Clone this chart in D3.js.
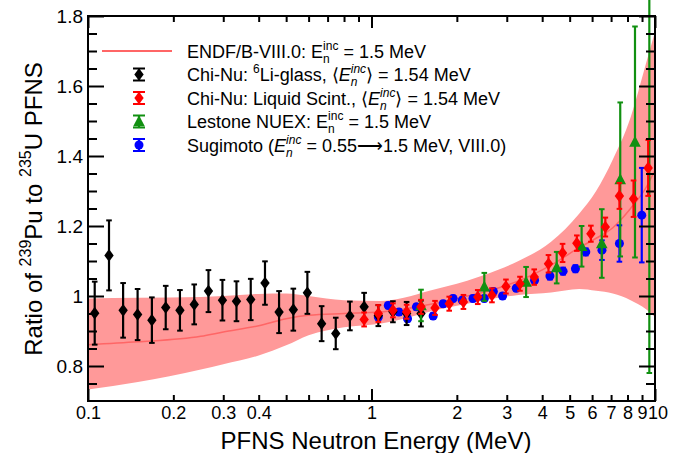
<!DOCTYPE html>
<html>
<head>
<meta charset="utf-8">
<title>239Pu / 235U PFNS ratio</title>
<script src="https://d3js.org/d3.v7.min.js"></script>
<style>
  body { margin: 0; background: #fff; }
  svg text { font-family: "Liberation Sans", Arial, Helvetica, sans-serif; fill: #000; }
</style>
</head>
<body>
<svg id="chart" width="689" height="453"></svg>
<script>
// ENDF/B-VIII.0 ratio and its uncertainty band
var endfE   = [0.1, 0.15, 0.25, 0.3, 0.4, 0.5, 0.6, 0.8, 1.07, 1.3, 1.6, 2.0, 2.8, 3.3, 4.3, 5.4, 6.2, 7.1, 8.2, 9.3, 10]
var endfMid = [0.861, 0.869, 0.885, 0.897, 0.915, 0.935, 0.945, 0.95, 0.954, 0.963, 0.976, 0.993, 1.023, 1.043, 1.088, 1.138, 1.165, 1.195, 1.25, 1.31, 1.36]
var endfHi  = [0.993, 0.995, 0.997, 1.0, 1.006, 1.007, 1.0, 0.988, 0.986, 0.995, 1.015, 1.035, 1.075, 1.1, 1.155, 1.235, 1.30, 1.39, 1.51, 1.665, 1.755]
var endfLo  = [0.733, 0.754, 0.79, 0.805, 0.83, 0.859, 0.888, 0.911, 0.921, 0.935, 0.955, 0.972, 0.995, 1.003, 1.01, 1.02, 1.015, 1.007, 0.988, 0.962, 0.94]

// Chi-Nu 6Li-glass
var liE   = [0.1056, 0.1186, 0.133, 0.1496, 0.168, 0.188, 0.211, 0.237, 0.266, 0.298, 0.334, 0.375, 0.421, 0.472, 0.530, 0.594, 0.667, 0.748, 0.839, 0.942, 1.057, 1.19, 1.33, 1.495]
var liR   = [0.951, 1.116, 0.959, 0.947, 0.931, 0.967, 0.959, 0.976, 1.014, 0.988, 0.985, 0.990, 1.037, 0.954, 0.961, 1.009, 0.921, 0.893, 0.943, 0.969, 0.944, 0.955, 0.95, 0.95]
var liErr = [0.09, 0.1, 0.078, 0.073, 0.065, 0.062, 0.058, 0.057, 0.06, 0.058, 0.057, 0.059, 0.062, 0.06, 0.06, 0.06, 0.05, 0.045, 0.041, 0.04, 0.03, 0.03, 0.033, 0.037]

// Chi-Nu liquid scintillator
var lsE   = [0.942, 1.057, 1.19, 1.33, 1.495, 1.675, 1.88, 2.11, 2.37, 2.66, 2.98, 3.34, 3.75, 4.21, 4.72, 5.3, 5.94, 6.68, 7.49, 8.4, 9.46]
var lsR   = [0.933, 0.95, 0.959, 0.955, 0.969, 0.966, 0.978, 0.983, 0.997, 1.002, 1.027, 1.035, 1.054, 1.092, 1.123, 1.151, 1.178, 1.197, 1.286, 1.278, 1.366]
var lsErr = [0.02, 0.024, 0.02, 0.02, 0.02, 0.02, 0.02, 0.02, 0.02, 0.02, 0.02, 0.02, 0.022, 0.025, 0.026, 0.022, 0.023, 0.027, 0.037, 0.052, 0.08]

// Lestone NUEX
var leE   = [1.495, 2.5, 3.51, 4.5, 5.51, 6.49, 7.54, 8.5, 9.55]
var leR   = [0.973, 1.026, 1.04, 1.081, 1.142, 1.15, 1.333, 1.44, 1.9]
var leErr = [0.045, 0.04, 0.043, 0.045, 0.058, 0.098, 0.22, 0.33, 1.12]

// Sugimoto
var suE   = [1.057, 1.146, 1.25, 1.34, 1.44, 1.65, 1.79, 1.94, 2.09, 2.28, 2.5, 2.69, 2.9, 3.24, 3.76, 4.26, 4.74, 5.24, 5.7, 6.5, 7.49, 8.98]
var suR   = [0.94, 0.973, 0.954, 0.935, 0.969, 0.943, 0.978, 0.993, 0.988, 0.993, 0.993, 1.013, 1.0, 1.022, 1.045, 1.057, 1.071, 1.078, 1.126, 1.131, 1.15, 1.231]
var suErr = [0.008, 0.008, 0.008, 0.008, 0.008, 0.008, 0.008, 0.008, 0.008, 0.008, 0.008, 0.008, 0.008, 0.008, 0.008, 0.01, 0.01, 0.01, 0.01, 0.028, 0.052, 0.135]

// axis ticks
var xLabels = [0.1, 0.2, 0.3, 0.4, 1, 2, 3, 4, 5, 6, 7, 8, 9, 10]
var xMajor = [0.1, 1, 10]
var xMinor = [0.2, 0.3, 0.4, 0.5, 0.6, 0.7, 0.8, 0.9, 2, 3, 4, 5, 6, 7, 8, 9]
var yLabels = [0.8, 1, 1.2, 1.4, 1.6, 1.8]

var svg = d3.select("#chart")

var x = d3.scaleLog().domain([0.1, 10]).range([88, 655])
var y = d3.scaleLinear().domain([0.7, 1.8]).range([401, 16])

var bandColor = "#ff9999", lineColor = "#ff6666"
var green = "#119011"

// band
var endf = endfE.map(function(e, i) { return {e: e, mid: endfMid[i], hi: endfHi[i], lo: endfLo[i]} })
svg.append("path")
  .datum(endf)
  .attr("fill", bandColor)
  .attr("d", d3.area().curve(d3.curveMonotoneX)
    .x(function(d) { return x(d.e) })
    .y0(function(d) { return y(d.lo) })
    .y1(function(d) { return y(d.hi) }))
svg.append("path")
  .datum(endf)
  .attr("fill", "none")
  .attr("stroke", lineColor)
  .attr("stroke-width", 1.5)
  .attr("d", d3.line().curve(d3.curveMonotoneX)
    .x(function(d) { return x(d.e) })
    .y(function(d) { return y(d.mid) }))

// marker shapes
function drawMarker(g, shape, color, cx, cy) {
  if (shape == "diamond") {
    g.append("path").attr("d", "M" + cx + "," + (cy - 6.3) + "L" + (cx + 4.7) + "," + cy + "L" + cx + "," + (cy + 6.3) + "L" + (cx - 4.7) + "," + cy + "Z")
      .attr("fill", color)
  } else if (shape == "circle") {
    g.append("circle").attr("cx", cx).attr("cy", cy).attr("r", 4.5).attr("fill", color)
  } else {
    g.append("path").attr("d", "M" + cx + "," + (cy - 6.3) + "L" + (cx + 5.8) + "," + (cy + 4.7) + "L" + (cx - 5.8) + "," + (cy + 4.7) + "Z")
      .attr("fill", color)
  }
}

function drawErrBar(g, color, cx, y1, y2, cap) {
  g.append("line").attr("x1", cx).attr("x2", cx).attr("y1", y1).attr("y2", y2)
    .attr("stroke", color).attr("stroke-width", 2.2)
  g.append("line").attr("x1", cx - cap).attr("x2", cx + cap).attr("y1", y1).attr("y2", y1)
    .attr("stroke", color).attr("stroke-width", 2)
  g.append("line").attr("x1", cx - cap).attr("x2", cx + cap).attr("y1", y2).attr("y2", y2)
    .attr("stroke", color).attr("stroke-width", 2)
}

function drawSeries(es, rs, errs, shape, color) {
  var g = svg.append("g")
  es.forEach(function(e, i) {
    drawErrBar(g, color, x(e), y(rs[i] + errs[i]), y(rs[i] - errs[i]), 2.8)
    drawMarker(g, shape, color, x(e), y(rs[i]))
  })
}

drawSeries(suE, suR, suErr, "circle", "#0000ff")
drawSeries(liE, liR, liErr, "diamond", "#000000")
drawSeries(leE, leR, leErr, "triangle", green)
drawSeries(lsE, lsR, lsErr, "diamond", "#ff0000")

// frame and ticks (ROOT style, ticks inside)
var frame = svg.append("g")
function tickAxis(axis, vals, len, transform) {
  frame.append("g").attr("transform", transform)
    .call(axis.tickValues(vals).tickSize(-len).tickFormat(""))
    .call(function(g) { g.select(".domain").remove() })
    .selectAll("line").attr("stroke", "#000").attr("stroke-width", 2)
}
tickAxis(d3.axisBottom(x), xMajor, 12, "translate(0,401)")
tickAxis(d3.axisBottom(x), xMinor, 6, "translate(0,401)")
tickAxis(d3.axisTop(x), xMajor, 12, "translate(0,16)")
tickAxis(d3.axisTop(x), xMinor, 6, "translate(0,16)")
var yMinor = d3.range(0.75, 1.8, 0.05).filter(function(v) { return Math.abs(v * 5 - Math.round(v * 5)) > 0.01 })
tickAxis(d3.axisLeft(y), yLabels, 16, "translate(88,0)")
tickAxis(d3.axisLeft(y), yMinor, 9, "translate(88,0)")
tickAxis(d3.axisRight(y), yLabels, 16, "translate(655,0)")
tickAxis(d3.axisRight(y), yMinor, 9, "translate(655,0)")

frame.append("rect").attr("x", 88).attr("y", 16).attr("width", 655 - 88).attr("height", 401 - 16)
  .attr("fill", "none").attr("stroke", "#000").attr("stroke-width", 2)

// tick labels
svg.append("g").attr("transform", "translate(0,401)")
  .call(d3.axisBottom(x).tickValues(xLabels).tickSize(0).tickPadding(5).tickFormat(function(d) { return d }))
  .call(function(g) {
    g.select(".domain").remove()
    g.selectAll("text").style("font-size", "18px").style("font-family", null)
      .attr("dx", function(d) { return d == 10 ? 2.5 : 0 })
  })
svg.append("g").attr("transform", "translate(88,0)")
  .call(d3.axisLeft(y).tickValues(yLabels).tickSize(0).tickPadding(5).tickFormat(function(d) { return d }))
  .call(function(g) { g.select(".domain").remove(); g.selectAll("text").style("font-size", "19px").style("font-family", null) })

// text with super/subscripts
function measure(t, size, italic) {
  var n = svg.append("text").style("font-size", size + "px").style("font-style", italic ? "italic" : "normal").text(t)
  var w = n.node().getComputedTextLength()
  n.remove()
  return w
}
function richText(g, segs, size) {
  var small = Math.round(size * 0.66)
  var t = g.append("text").style("font-size", size + "px")
  var cur = 0, prevW = 0
  segs.forEach(function(s) {
    var off = s.s == "sup" ? -size * 0.44 : s.s == "sub" ? size * 0.3 : 0
    var fs = s.s ? small : size
    var sp = t.append("tspan").attr("dy", off - cur).style("font-size", fs + "px").text(s.t)
    if (s.i) sp.style("font-style", "italic")
    if (s.back) sp.attr("dx", -prevW)
    cur = off
    prevW = measure(s.t, fs, s.i)
  })
  return t
}
function Einc(italic) {
  return [{t: "E", i: italic}, {t: "n", s: "sub", i: italic}, {t: "inc", s: "sup", i: italic, back: true}]
}

// legend
var legX = 139, legT = 187, legY0 = 51, legDy = 23.5
var lg = svg.append("g")
lg.append("line").attr("x1", 102).attr("x2", 172).attr("y1", legY0).attr("y2", legY0)
  .attr("stroke", lineColor).attr("stroke-width", 2)
var legMarks = [["diamond", "#000000"], ["diamond", "#ff0000"], ["triangle", green], ["circle", "#0000ff"]]
legMarks.forEach(function(m, i) {
  var cy = legY0 + (i + 1) * legDy
  drawErrBar(lg, m[1], legX, cy - 6, cy + 6, 6)
  drawMarker(lg, m[0], m[1], legX, cy)
})
var legTexts = [
  [{t: "ENDF/B-VIII.0: "}].concat(Einc(false), [{t: " = 1.5 MeV"}]),
  [{t: "Chi-Nu: "}, {t: "6", s: "sup"}, {t: "Li-glass, \u27E8"}].concat(Einc(true), [{t: "\u27E9 = 1.54 MeV"}]),
  [{t: "Chi-Nu: Liquid Scint., \u27E8"}].concat(Einc(true), [{t: "\u27E9 = 1.54 MeV"}]),
  [{t: "Lestone NUEX: "}].concat(Einc(false), [{t: " = 1.5 MeV"}]),
  [{t: "Sugimoto ("}].concat(Einc(true), [{t: " = 0.55\u27F61.5 MeV, VIII.0)"}])
]
legTexts.forEach(function(segs, i) {
  var g = lg.append("g").attr("transform", "translate(" + legT + "," + (legY0 + i * legDy + 6.5) + ")")
  richText(g, segs, 18)
})

// axis titles
var xt = svg.append("g").attr("transform", "translate(376,449)")
richText(xt, [{t: "PFNS Neutron Energy (MeV)"}], 24).attr("text-anchor", "middle")

var yt = svg.append("g").attr("transform", "translate(42,209) rotate(-90)")
var ytt = richText(yt, [{t: "Ratio of "}, {t: "239", s: "sup"}, {t: "Pu to "}, {t: "235", s: "sup"}, {t: "U PFNS"}], 24)
ytt.attr("text-anchor", "middle")
</script>
</body>
</html>
